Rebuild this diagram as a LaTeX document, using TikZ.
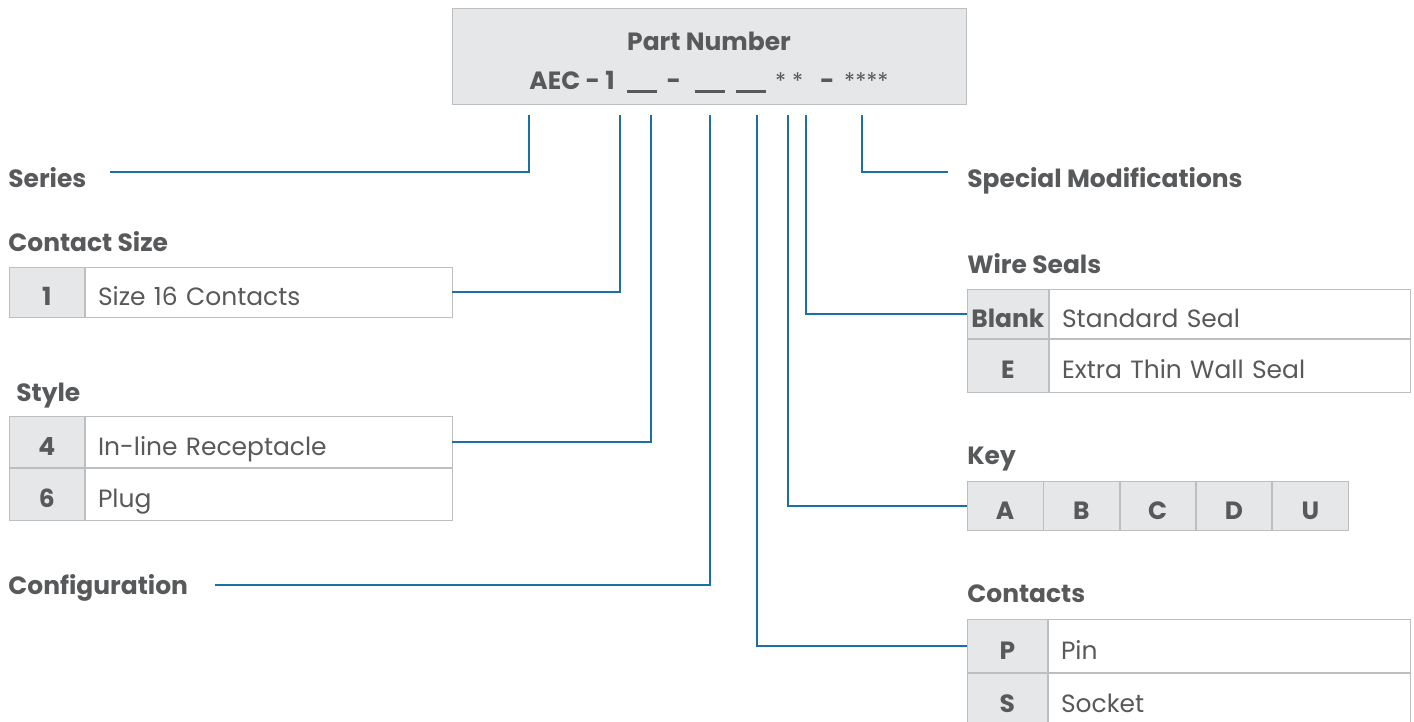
\documentclass[tikz,border=0pt]{standalone}
\usepackage{fontspec}
\setmainfont{Poppins}
\usetikzlibrary{positioning}

\definecolor{txtgray}{HTML}{58595B}
\definecolor{cellfill}{HTML}{E6E7E8}
\definecolor{cellline}{HTML}{BCBEC0}
\definecolor{linkblue}{HTML}{1B6FA3}

\newcommand{\pnblank}{\rule[-2pt]{17pt}{1.7pt}}
\newcommand{\pnstar}[1]{{\mdseries\fontsize{13}{14}\selectfont #1}}

\begin{document}
\begin{tikzpicture}[x=0.02cm,y=-0.02cm,
  every node/.style={text=txtgray,font=\fontsize{14.2}{17}\selectfont},
  head/.style={anchor=west,inner sep=0pt,text depth=0pt,font=\bfseries\fontsize{14.2}{17}\selectfont},
  code/.style={draw=cellline,fill=cellfill,minimum width=#1,minimum height=1cm,
    inner sep=0pt,text height=15pt,text depth=0pt,
    font=\bfseries\fontsize{14.2}{17}\selectfont},
  desc/.style={draw=cellline,fill=white,minimum height=1cm,text width=#1,
    inner xsep=0.26cm,inner ysep=0pt,text height=15pt,text depth=0pt,align=left},
  link/.style={draw=linkblue,line width=1.3pt}]
  \useasboundingbox (0,0) rectangle (1414,721);

  % part number box
  \node[draw=cellline,fill=cellfill,minimum width=10.28cm,minimum height=1.92cm,
    anchor=north west](pn) at (452,8) {};
  \node[font=\bfseries\fontsize{14.2}{17}\selectfont](pntitle) at (709,41) {Part Number};
  \node[font=\bfseries\fontsize{14.2}{17}\selectfont](pncode) at (709,82)
    {AEC - 1\hspace{7pt}\pnblank\hspace{5.5pt}-\hspace{8pt}\pnblank\hspace{6.5pt}\pnblank\hspace{5pt}\pnstar{* *}\hspace{9.5pt}-\hspace{5.5pt}\pnstar{****}};

  % left side
  \node[head](series) at (8,178) {Series};
  \node[head](cshead) at (8,242) {Contact Size};
  \node[code=1.5cm,anchor=north west](cs1) at (9,267) {1};
  \node[desc=6.82cm,right=0pt of cs1](cs1d) {Size 16 Contacts};

  \node[head](sthead) at (16,392) {Style};
  \node[code=1.5cm,anchor=north west,minimum height=1.02cm](st4) at (9,416) {4};
  \node[desc=6.82cm,right=0pt of st4,minimum height=1.02cm](st4d) {In-line Receptacle};
  \node[code=1.5cm,below=0pt of st4,minimum height=1.04cm](st6) {6};
  \node[desc=6.82cm,right=0pt of st6,minimum height=1.04cm](st6d) {Plug};

  \node[head](config) at (8,584) {Configuration};

  % right side
  \node[head](special) at (967,178) {Special Modifications};

  \node[head](wshead) at (967,264) {Wire Seals};
  \node[code=1.62cm,anchor=north west,minimum height=0.98cm](wsb) at (967,289) {Blank};
  \node[desc=6.70cm,right=0pt of wsb,minimum height=0.98cm](wsbd) {Standard Seal};
  \node[code=1.62cm,below=0pt of wsb,minimum height=1.06cm](wse) {E};
  \node[desc=6.70cm,right=0pt of wse,minimum height=1.06cm](wsed) {Extra Thin Wall Seal};

  \node[head](keyhead) at (967,456) {Key};
  \node[code=1.512cm,anchor=north west,minimum height=0.98cm](keyA) at (967,481) {A};
  \node[code=1.512cm,right=0pt of keyA,minimum height=0.98cm](keyB) {B};
  \node[code=1.512cm,right=0pt of keyB,minimum height=0.98cm](keyC) {C};
  \node[code=1.512cm,right=0pt of keyC,minimum height=0.98cm](keyD) {D};
  \node[code=1.512cm,right=0pt of keyD,minimum height=0.98cm](keyU) {U};

  \node[head](cthead) at (967,594) {Contacts};
  \node[code=1.6cm,anchor=north west,minimum height=1.06cm](ctP) at (967,619) {P};
  \node[desc=6.72cm,right=0pt of ctP,minimum height=1.06cm](ctPd) {Pin};
  \node[code=1.6cm,below=0pt of ctP,minimum height=1.06cm](ctS) {S};
  \node[desc=6.72cm,right=0pt of ctS,minimum height=1.06cm](ctSd) {Socket};

  % taps under the part number
  \coordinate (tapSeries) at (529,115);
  \coordinate (tapSize) at (620,115);
  \coordinate (tapStyle) at (651,115);
  \coordinate (tapConfig) at (710,115);
  \coordinate (tapContacts) at (757,115);
  \coordinate (tapKey) at (788,115);
  \coordinate (tapSeals) at (806,115);
  \coordinate (tapSpecial) at (862,115);
  \coordinate (endSeries) at (110,172);
  \coordinate (endConfig) at (215,585);
  \coordinate (endSpecial) at (948,172);

  \draw[link] (tapSeries) |- (endSeries);
  \draw[link] (tapSize) |- (cs1d.east);
  \draw[link] (tapStyle) |- (st4d.east);
  \draw[link] (tapConfig) |- (endConfig);
  \draw[link] (tapContacts) |- (ctP.west);
  \draw[link] (tapKey) |- (keyA.west);
  \draw[link] (tapSeals) |- (wsb.west);
  \draw[link] (tapSpecial) |- (endSpecial);
\end{tikzpicture}
\end{document}
